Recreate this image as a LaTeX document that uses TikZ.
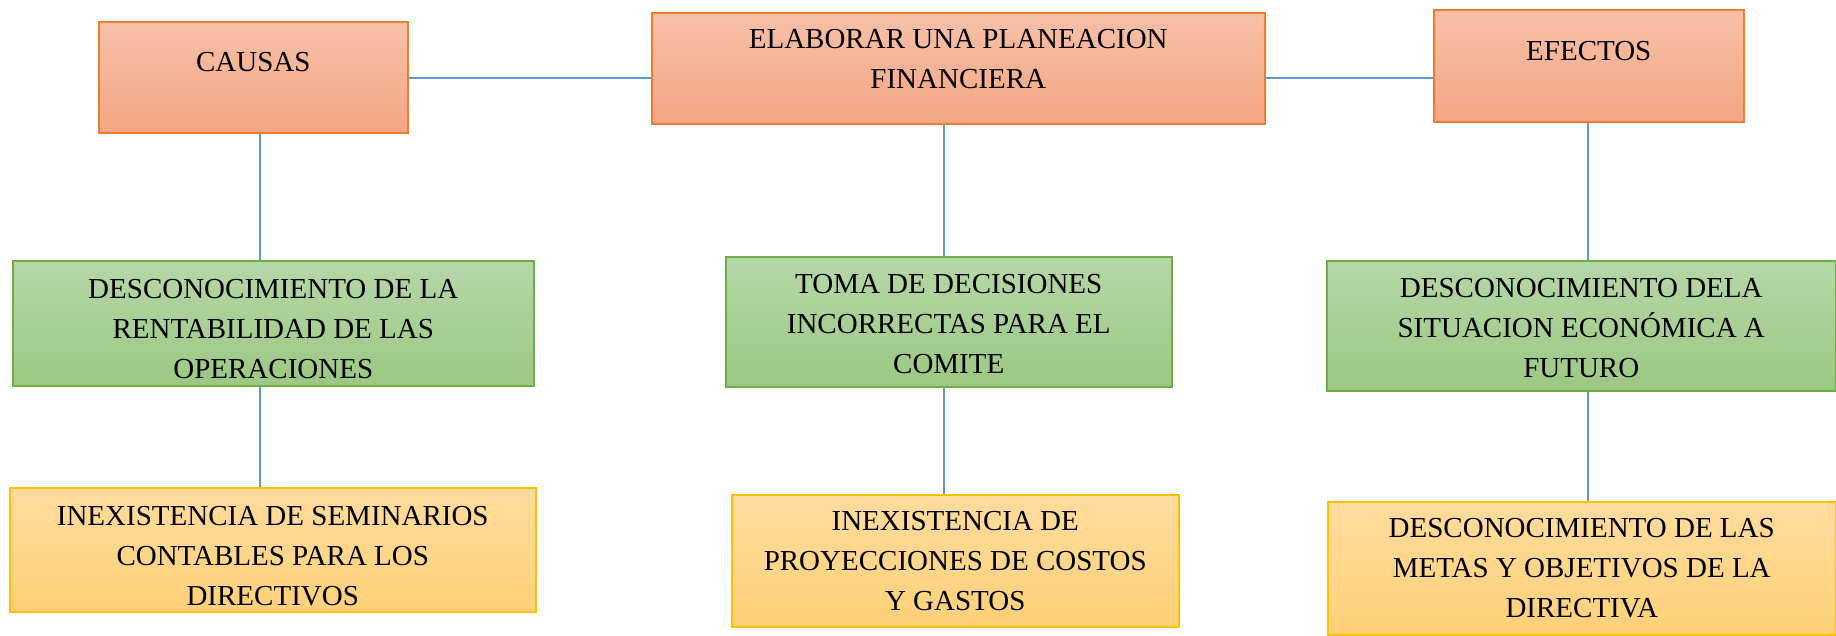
\documentclass[tikz,border=0pt]{standalone}
\usepackage{fontspec}
\setmainfont{Liberation Serif}
\usepackage{tikz}
\definecolor{naranjaborde}{RGB}{237,125,49}
\definecolor{naranjaarriba}{RGB}{247,192,168}
\definecolor{naranjaabajo}{RGB}{244,166,131}
\definecolor{verdeborde}{RGB}{112,173,71}
\definecolor{verdearriba}{RGB}{182,215,168}
\definecolor{verdeabajo}{RGB}{155,200,130}
\definecolor{amarilloborde}{RGB}{255,192,0}
\definecolor{amarilloarriba}{RGB}{255,220,158}
\definecolor{amarilloabajo}{RGB}{254,209,120}
\definecolor{azullinea}{RGB}{91,155,213}

\begin{document}
\begin{tikzpicture}[x=1pt, y=-1pt,
		caja/.style={rectangle, anchor=north west, align=center, inner sep=0pt, line width=1.5pt,
			font=\fontsize{29}{40}\selectfont},
		naranja/.style={caja, draw=naranjaborde, top color=naranjaarriba, bottom color=naranjaabajo},
		verde/.style={caja, draw=verdeborde, top color=verdearriba, bottom color=verdeabajo},
		amarillo/.style={caja, draw=amarilloborde, top color=amarilloarriba, bottom color=amarilloabajo},
		linea/.style={draw=azullinea, line width=1.3pt}]

		\useasboundingbox (0,0) rectangle (1836,635);

		% top row
		\node[naranja, minimum width=309pt, minimum height=111pt, text depth=30pt] (causas) at (98,21) {CAUSAS};
		\node[naranja, minimum width=613pt, minimum height=111pt, text depth=18pt] (planeacion) at (651,12) {ELABORAR UNA PLANEACION\\FINANCIERA};
		\node[naranja, minimum width=310pt, minimum height=112pt, text depth=30pt] (efectos) at (1433,9) {EFECTOS};

		% middle row
		\node[verde, minimum width=521pt, minimum height=125pt, text height=110pt] (rentabilidad) at (12,260) {DESCONOCIMIENTO DE LA\\RENTABILIDAD DE LAS\\OPERACIONES};
		\node[verde, minimum width=446pt, minimum height=130pt, text height=104pt] (decisiones) at (725,256) {TOMA DE DECISIONES\\INCORRECTAS PARA EL\\COMITE};
		\node[verde, minimum width=509pt, minimum height=130pt, text height=104pt] (situacion) at (1326,260) {DESCONOCIMIENTO DELA\\SITUACION ECONÓMICA A\\FUTURO};

		% bottom row
		\node[amarillo, minimum width=526pt, minimum height=124pt, text height=112pt] (seminarios) at (9,487) {INEXISTENCIA DE SEMINARIOS\\CONTABLES PARA LOS\\DIRECTIVOS};
		\node[amarillo, minimum width=447pt, minimum height=132pt] (proyecciones) at (731,494) {INEXISTENCIA DE\\PROYECCIONES DE COSTOS\\Y GASTOS};
		\node[amarillo, minimum width=508pt, minimum height=133pt] (metas) at (1327,501) {DESCONOCIMIENTO DE LAS\\METAS Y OBJETIVOS DE LA\\DIRECTIVA};

		% connector axes
		\coordinate (ejeA) at (260,78);
		\coordinate (ejeB) at (944,78);
		\coordinate (ejeC) at (1588,78);

		% connectors
		\draw[linea] (causas.east |- ejeA) -- (planeacion.west |- ejeA);
		\draw[linea] (planeacion.east |- ejeA) -- (efectos.west |- ejeA);
		\draw[linea] (causas.south -| ejeA) -- (rentabilidad.north -| ejeA);
		\draw[linea] (rentabilidad.south -| ejeA) -- (seminarios.north -| ejeA);
		\draw[linea] (planeacion.south -| ejeB) -- (decisiones.north -| ejeB);
		\draw[linea] (decisiones.south -| ejeB) -- (proyecciones.north -| ejeB);
		\draw[linea] (efectos.south -| ejeC) -- (situacion.north -| ejeC);
		\draw[linea] (situacion.south -| ejeC) -- (metas.north -| ejeC);

\end{tikzpicture}
\end{document}
